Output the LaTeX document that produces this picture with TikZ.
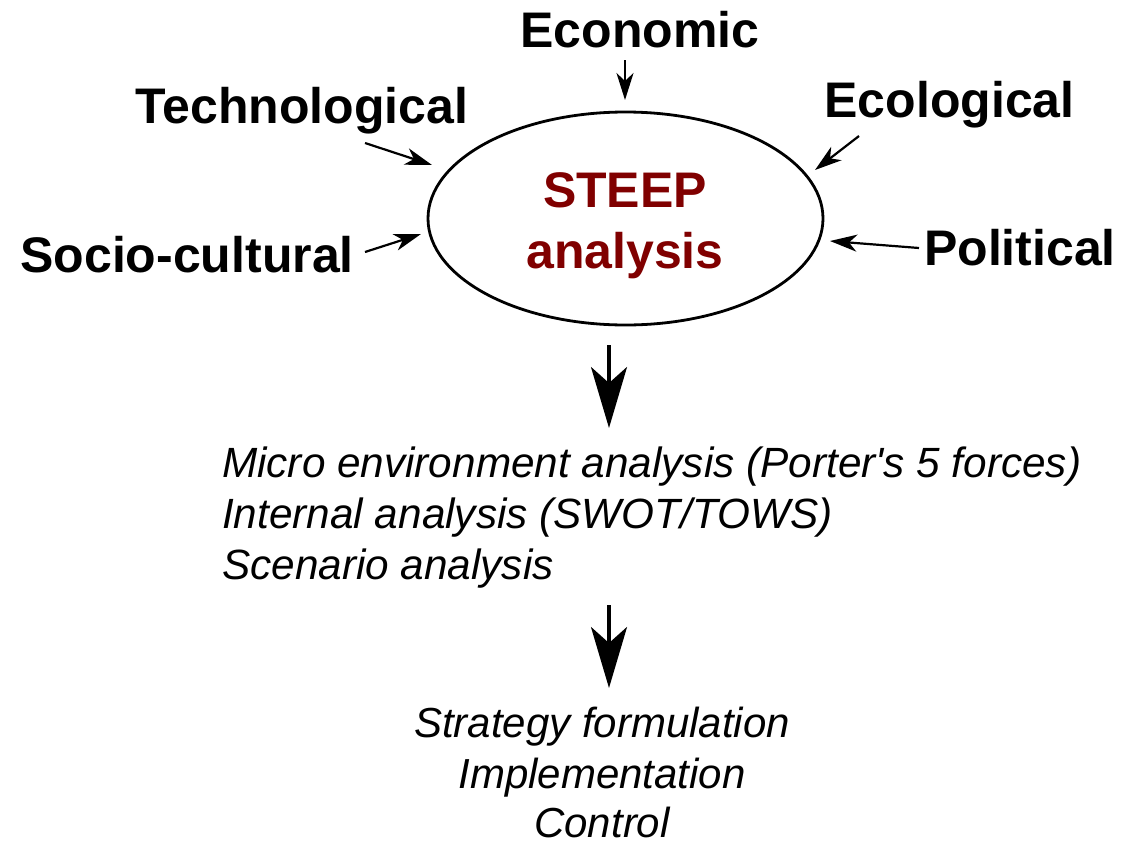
\documentclass[tikz,border=0pt]{standalone}
\usepackage{fontspec}
\setmainfont{Liberation Sans}
\usetikzlibrary{arrows.meta,shapes.geometric}
\definecolor{steepred}{RGB}{128,0,0}
\begin{document}
\begin{tikzpicture}[x=1pt,y=-1pt,
  factor/.style={inner sep=0pt,anchor=base,font=\fontsize{50}{60}\selectfont\bfseries},
  core/.style={inner sep=0pt,anchor=base,text=steepred,font=\fontsize{50}{60}\selectfont\bfseries},
  midtext/.style={inner sep=0pt,anchor=base west,font=\fontsize{42.3}{51}\selectfont\itshape},
  bottext/.style={inner sep=0pt,anchor=base,font=\fontsize{42}{51}\selectfont\itshape},
  smallarrow/.style={line width=2.2pt,-{Stealth[length=27pt,width=17pt,inset=8pt]}},
  bigarrow/.style={line width=3.5pt,-{Stealth[length=61pt,width=36pt,inset=16pt]}}]
\useasboundingbox (0,0) rectangle (1122,846);
% central ellipse
\node[draw,ellipse,line width=2.8pt,minimum width=395pt,minimum height=213pt,inner sep=0pt] (steep) at (625.5,218.5) {};
\node[core] (steep1) at (625,207) {STEEP};
\node[core] (steep2) at (625,268) {analysis};
% factors
\node[factor] (eco) at (640,47) {Economic};
\node[factor] (tech) at (302,123) {Technological};
\node[factor] (soc) at (187,272) {Socio-cultural};
\node[factor] (ecol) at (949.5,117) {Ecological};
\node[factor] (pol) at (1020,265) {Political};
% arrow end points
\coordinate (ecoA) at (625,60);   \coordinate (ecoB) at (625,100);
\coordinate (techA) at (365,143); \coordinate (techB) at (432,165);
\coordinate (socA) at (365,252);  \coordinate (socB) at (421,234);
\coordinate (ecolA) at (859,136); \coordinate (ecolB) at (815,170);
\coordinate (polA) at (919,248);  \coordinate (polB) at (830,241);
\draw[smallarrow] (ecoA) -- (ecoB);
\draw[smallarrow] (techA) -- (techB);
\draw[smallarrow] (socA) -- (socB);
\draw[smallarrow] (ecolA) -- (ecolB);
\draw[smallarrow] (polA) -- (polB);
% big arrows
\coordinate (b1A) at (609,345); \coordinate (b1B) at (609,428);
\coordinate (b2A) at (609,605); \coordinate (b2B) at (609,688);
\draw[bigarrow] (b1A) -- (b1B);
\draw[bigarrow] (b2A) -- (b2B);
% middle block
\node[midtext] (m1) at (222,477) {Micro environment analysis (Porter\textquotesingle s 5 forces)};
\node[midtext] (m2) at (222,528) {Internal analysis (SWOT/TOWS)};
\node[midtext] (m3) at (222,579) {Scenario analysis};
% bottom block
\node[bottext] (s1) at (602,737) {Strategy formulation};
\node[bottext] (s2) at (602,788) {Implementation};
\node[bottext] (s3) at (602,837) {Control};
\end{tikzpicture}
\end{document}
